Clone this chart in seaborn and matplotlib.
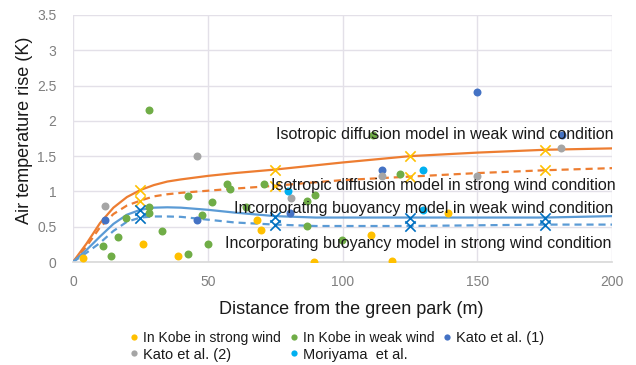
import matplotlib
matplotlib.use("Agg")
import matplotlib.pyplot as plt
import seaborn as sns
import pandas as pd

# ---------------- data ----------------
kobe_strong_x = [3.7, 26.1, 39.1, 68.2, 69.6, 89.4, 110.4, 118.2, 139.3]
kobe_strong_y = [0.05, 0.25, 0.08, 0.59, 0.46, 0.00, 0.38, 0.02, 0.69]

kobe_weak_x = [11.3, 14.1, 16.8, 19.8, 28.3, 28.3, 28.3, 33.2, 42.8, 42.8, 47.9, 50.0,
               51.4, 57.0, 58.3, 64.1, 70.9, 86.7, 89.8, 86.7, 99.7, 111.4, 121.3]
kobe_weak_y = [0.23, 0.09, 0.35, 0.62, 2.15, 0.78, 0.70, 0.44, 0.93, 0.11, 0.67, 0.26,
               0.85, 1.10, 1.03, 0.78, 1.11, 0.87, 0.95, 0.51, 0.31, 1.80, 1.25]

kato1_x = [11.9, 45.9, 80.4, 114.8, 149.8, 181.3]
kato1_y = [0.60, 0.60, 0.70, 1.31, 2.41, 1.80]

kato2_x = [11.9, 45.9, 80.8, 114.5, 149.8, 181.0]
kato2_y = [0.80, 1.50, 0.91, 1.22, 1.22, 1.61]

moriyama_x = [79.7, 129.7, 129.7]
moriyama_y = [1.00, 1.30, 0.73]

# model curves
curve_x = [0, 5, 10, 15, 20, 25, 30, 35, 40, 50, 60, 75, 90, 100, 125, 150, 175, 200]
iso_weak = [0, 0.26, 0.55, 0.77, 0.92, 1.02, 1.09, 1.14, 1.17, 1.22, 1.26, 1.31, 1.37, 1.41, 1.50, 1.55, 1.59, 1.61]
iso_strong = [0, 0.22, 0.49, 0.68, 0.80, 0.87, 0.93, 0.96, 0.98, 1.01, 1.04, 1.08, 1.13, 1.16, 1.21, 1.26, 1.30, 1.33]
buoy_weak = [0, 0.17, 0.36, 0.54, 0.67, 0.74, 0.77, 0.775, 0.77, 0.74, 0.70, 0.65, 0.63, 0.63, 0.63, 0.63, 0.63, 0.65]
buoy_strong = [0, 0.13, 0.27, 0.44, 0.57, 0.63, 0.645, 0.645, 0.64, 0.60, 0.56, 0.53, 0.51, 0.51, 0.51, 0.52, 0.53, 0.53]

# model calculation points (crosses)
calc_x = [25, 75, 125, 175]
calc_iso_weak = [1.02, 1.31, 1.50, 1.59]
calc_iso_strong = [0.86, 1.07, 1.21, 1.30]
calc_buoy_weak = [0.73, 0.64, 0.62, 0.62]
calc_buoy_strong = [0.63, 0.53, 0.51, 0.53]

legend_labels = ["In Kobe in strong wind", "In Kobe in weak wind", "Kato et al. (1)",
                 "Kato et al. (2)", "Moriyama  et al."]
model_labels = ["Isotropic diffusion model in weak wind condition",
                "Isotropic diffusion model in strong wind condition",
                "Incorporating buoyancy model in weak wind condition",
                "Incorporating buoyancy model in strong wind condition"]
label_pos_x = [138.0, 137.5, 130.2, 128.1]
label_pos_y = [1.80, 1.08, 0.755, 0.265]

x_ticks = [0, 50, 100, 150, 200]
y_ticks = [0, 0.5, 1, 1.5, 2, 2.5, 3, 3.5]
y_tick_labels = ["0", "0.5", "1", "1.5", "2", "2.5", "3", "3.5"]

# ---------------- style ----------------
sns.set_theme(style="white")
plt.rcParams["font.family"] = ["Liberation Sans", "DejaVu Sans"]

C_YELLOW = "#FFC000"
C_GREEN = "#70AD47"
C_DBLUE = "#4472C4"
C_GRAY = "#A5A5A5"
C_CYAN = "#00B0F0"
C_ORANGE = "#ED7D31"
C_LBLUE = "#5B9BD5"
C_XBLUE = "#0070C0"

fig = plt.figure(figsize=(6.36, 3.65), dpi=100)
ax = fig.add_axes([73 / 636, 1 - 262 / 365, (612 - 73) / 636, (262 - 15) / 365])

# lines
lw = 1.6
sns.lineplot(x=curve_x, y=iso_weak, ax=ax, color=C_ORANGE, lw=lw, zorder=2)
sns.lineplot(x=curve_x, y=iso_strong, ax=ax, color=C_ORANGE, lw=lw, linestyle=(0, (3.2, 2.2)), zorder=2)
sns.lineplot(x=curve_x, y=buoy_weak, ax=ax, color=C_LBLUE, lw=lw, zorder=2)
sns.lineplot(x=curve_x, y=buoy_strong, ax=ax, color=C_LBLUE, lw=lw, linestyle=(0, (3.2, 2.2)), zorder=2)

# crosses
for yy, col in [(calc_iso_weak, C_YELLOW), (calc_iso_strong, C_YELLOW),
                (calc_buoy_weak, C_XBLUE), (calc_buoy_strong, C_XBLUE)]:
    sns.scatterplot(x=calc_x, y=yy, ax=ax, marker="x", s=55, color=col,
                    linewidth=1.2, zorder=4, legend=False)

# observed points
s = 33
handles = []
for xs, ys, col, lab in [(kobe_strong_x, kobe_strong_y, C_YELLOW, legend_labels[0]),
                         (kobe_weak_x, kobe_weak_y, C_GREEN, legend_labels[1]),
                         (kato1_x, kato1_y, C_DBLUE, legend_labels[2]),
                         (kato2_x, kato2_y, C_GRAY, legend_labels[3]),
                         (moriyama_x, moriyama_y, C_CYAN, legend_labels[4])]:
    sns.scatterplot(x=xs, y=ys, ax=ax, s=s, color=col, linewidth=0, zorder=3, legend=False)
    handles.append(plt.Line2D([], [], marker="o", ls="", color=col, markersize=4.5,
                              markeredgewidth=0, label=lab))

# model labels
for t, xx, yy in zip(model_labels, label_pos_x, label_pos_y):
    ax.text(xx, yy, t, ha="center", va="center", fontsize=11.5, color="#1a1a1a", zorder=5)

ax.set_xlim(0, 200)
ax.set_ylim(0, 3.5)
ax.set_xticks(x_ticks)
ax.set_yticks(y_ticks)
ax.set_yticklabels(y_tick_labels)
ax.tick_params(axis="both", length=0, labelsize=10, labelcolor="#7F7F7F")
ax.tick_params(axis="x", pad=9)
ax.tick_params(axis="y", pad=12)
ax.grid(True, color="#E3E0E8", lw=1.0, zorder=0)
ax.set_axisbelow(True)
for sp in ax.spines.values():
    sp.set_visible(False)
ax.spines["bottom"].set_visible(True)
ax.spines["bottom"].set_color("#D9D9D9")

fig.text(351 / 636, 1 - 310 / 365, "Distance from the green park (m)", ha="center", va="center",
         fontsize=13, color="#1a1a1a")
fig.text(25 / 636, 1 - 130 / 365, "Air temperature rise (K)", ha="center", va="center",
         rotation=90, fontsize=13, color="#1a1a1a")

order = [0, 3, 1, 4, 2]
leg = fig.legend([handles[i] for i in order], [legend_labels[i] for i in order],
                 ncol=3, loc="center", bbox_to_anchor=(337 / 636, 1 - 346.5 / 365),
                 frameon=False, fontsize=10.5, handlelength=0.6, handletextpad=0.3,
                 columnspacing=0.6, labelspacing=0.15, borderaxespad=0)
for txt in leg.get_texts():
    txt.set_color("#1a1a1a")
for i in (0, 2):
    leg.get_texts()[i].set_fontsize(10)
    leg.get_texts()[i].set_family(["Liberation Sans Narrow", "Liberation Sans"])

fig.savefig("out.png", dpi=100)
